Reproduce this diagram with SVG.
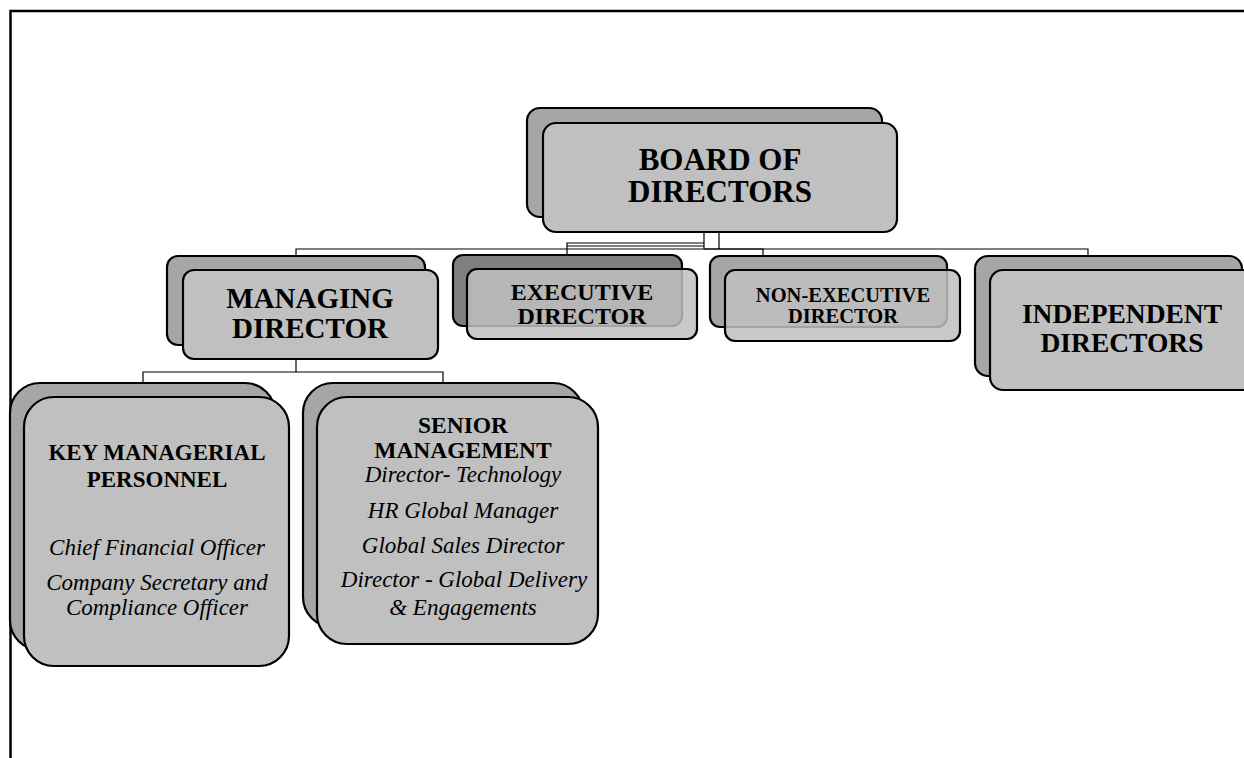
<svg xmlns="http://www.w3.org/2000/svg" width="1244" height="758" viewBox="0 0 1244 758">
<style>
.back{fill:#a6a6a6;stroke:#000;stroke-width:2.2}
.backd{fill:#808080;stroke:#000;stroke-width:2.2}
.front{fill:#c0c0c0;stroke:#000;stroke-width:2.2}
.fronta{fill:#c0c0c0;fill-opacity:0.85;stroke:#000;stroke-width:2.2}
.t{font-family:"Liberation Serif","Times New Roman",serif;font-weight:bold;fill:#000;text-anchor:middle}
.i{font-family:"Liberation Serif","Times New Roman",serif;font-style:italic;fill:#000;text-anchor:middle}
.c{fill:none;stroke:#000;stroke-width:1.2}
</style>
<rect width="1244" height="758" fill="#fff"/>
<path d="M10.5 758 V11 H1244" fill="none" stroke="#000" stroke-width="2.5"/>
<g id="connectors">
<path class="c" d="M704 232 V249 M719 232 V249" />
<path class="c" d="M567 255 V243 H704 M567 246 H704"/>
<path class="c" d="M296 255 V249 H1088 V255"/>
<path class="c" d="M704 249 H763 V255" stroke-width="2"/>
<path class="c" d="M296 359 V372 M143 383 V372 H443 V383"/>
</g>
<g id="board">
<rect class="back" x="527" y="108" width="355" height="109" rx="13"/>
<rect class="front" x="543" y="123" width="354" height="109" rx="13"/>
<text class="t" x="720" y="170" font-size="31">BOARD OF</text>
<text class="t" x="720" y="202" font-size="31">DIRECTORS</text>
</g>
<g id="managing">
<rect class="back" x="167" y="256" width="258" height="89" rx="11"/>
<rect class="front" x="183" y="270" width="255" height="89" rx="11"/>
<text class="t" x="310" y="308" font-size="29">MANAGING</text>
<text class="t" x="310" y="338" font-size="29">DIRECTOR</text>
</g>
<g id="executive">
<rect class="backd" x="453" y="255" width="229" height="71" rx="10"/>
<rect class="fronta" x="467" y="269" width="230" height="70" rx="10"/>
<text class="t" x="582" y="300" font-size="24">EXECUTIVE</text>
<text class="t" x="582" y="324" font-size="24">DIRECTOR</text>
</g>
<g id="nonexecutive">
<rect class="back" x="710" y="256" width="237" height="71" rx="10"/>
<rect class="fronta" x="725" y="270" width="235" height="71" rx="10"/>
<text class="t" x="843" y="302" font-size="20.5">NON-EXECUTIVE</text>
<text class="t" x="843" y="323" font-size="20.5">DIRECTOR</text>
</g>
<g id="independent">
<rect class="back" x="975" y="256" width="267" height="120" rx="13"/>
<rect class="front" x="990" y="270" width="268" height="120" rx="13"/>
<text class="t" x="1122" y="323" font-size="27.5">INDEPENDENT</text>
<text class="t" x="1122" y="352" font-size="27.5">DIRECTORS</text>
</g>
<g id="kmp">
<rect class="back" x="10" y="383" width="265" height="267" rx="30"/>
<rect class="front" x="24" y="397" width="265" height="269" rx="30"/>
<text class="t" x="157" y="460" font-size="23">KEY MANAGERIAL</text>
<text class="t" x="157" y="487" font-size="23">PERSONNEL</text>
<text class="i" x="157" y="555" font-size="23">Chief Financial Officer</text>
<text class="i" x="157" y="590" font-size="23">Company Secretary and</text>
<text class="i" x="157" y="615" font-size="23">Compliance Officer</text>
</g>
<g id="senior">
<rect class="back" x="303" y="383" width="280" height="244" rx="30"/>
<rect class="front" x="317" y="397" width="281" height="247" rx="30"/>
<text class="t" x="463" y="433" font-size="23.5">SENIOR</text>
<text class="t" x="463" y="458" font-size="23.5">MANAGEMENT</text>
<text class="i" x="463" y="482" font-size="23">Director- Technology</text>
<text class="i" x="463" y="518" font-size="23">HR Global Manager</text>
<text class="i" x="463" y="553" font-size="23">Global Sales Director</text>
<text class="i" x="464" y="587" font-size="23">Director - Global Delivery</text>
<text class="i" x="463" y="615" font-size="23">&amp; Engagements</text>
</g>
</svg>
